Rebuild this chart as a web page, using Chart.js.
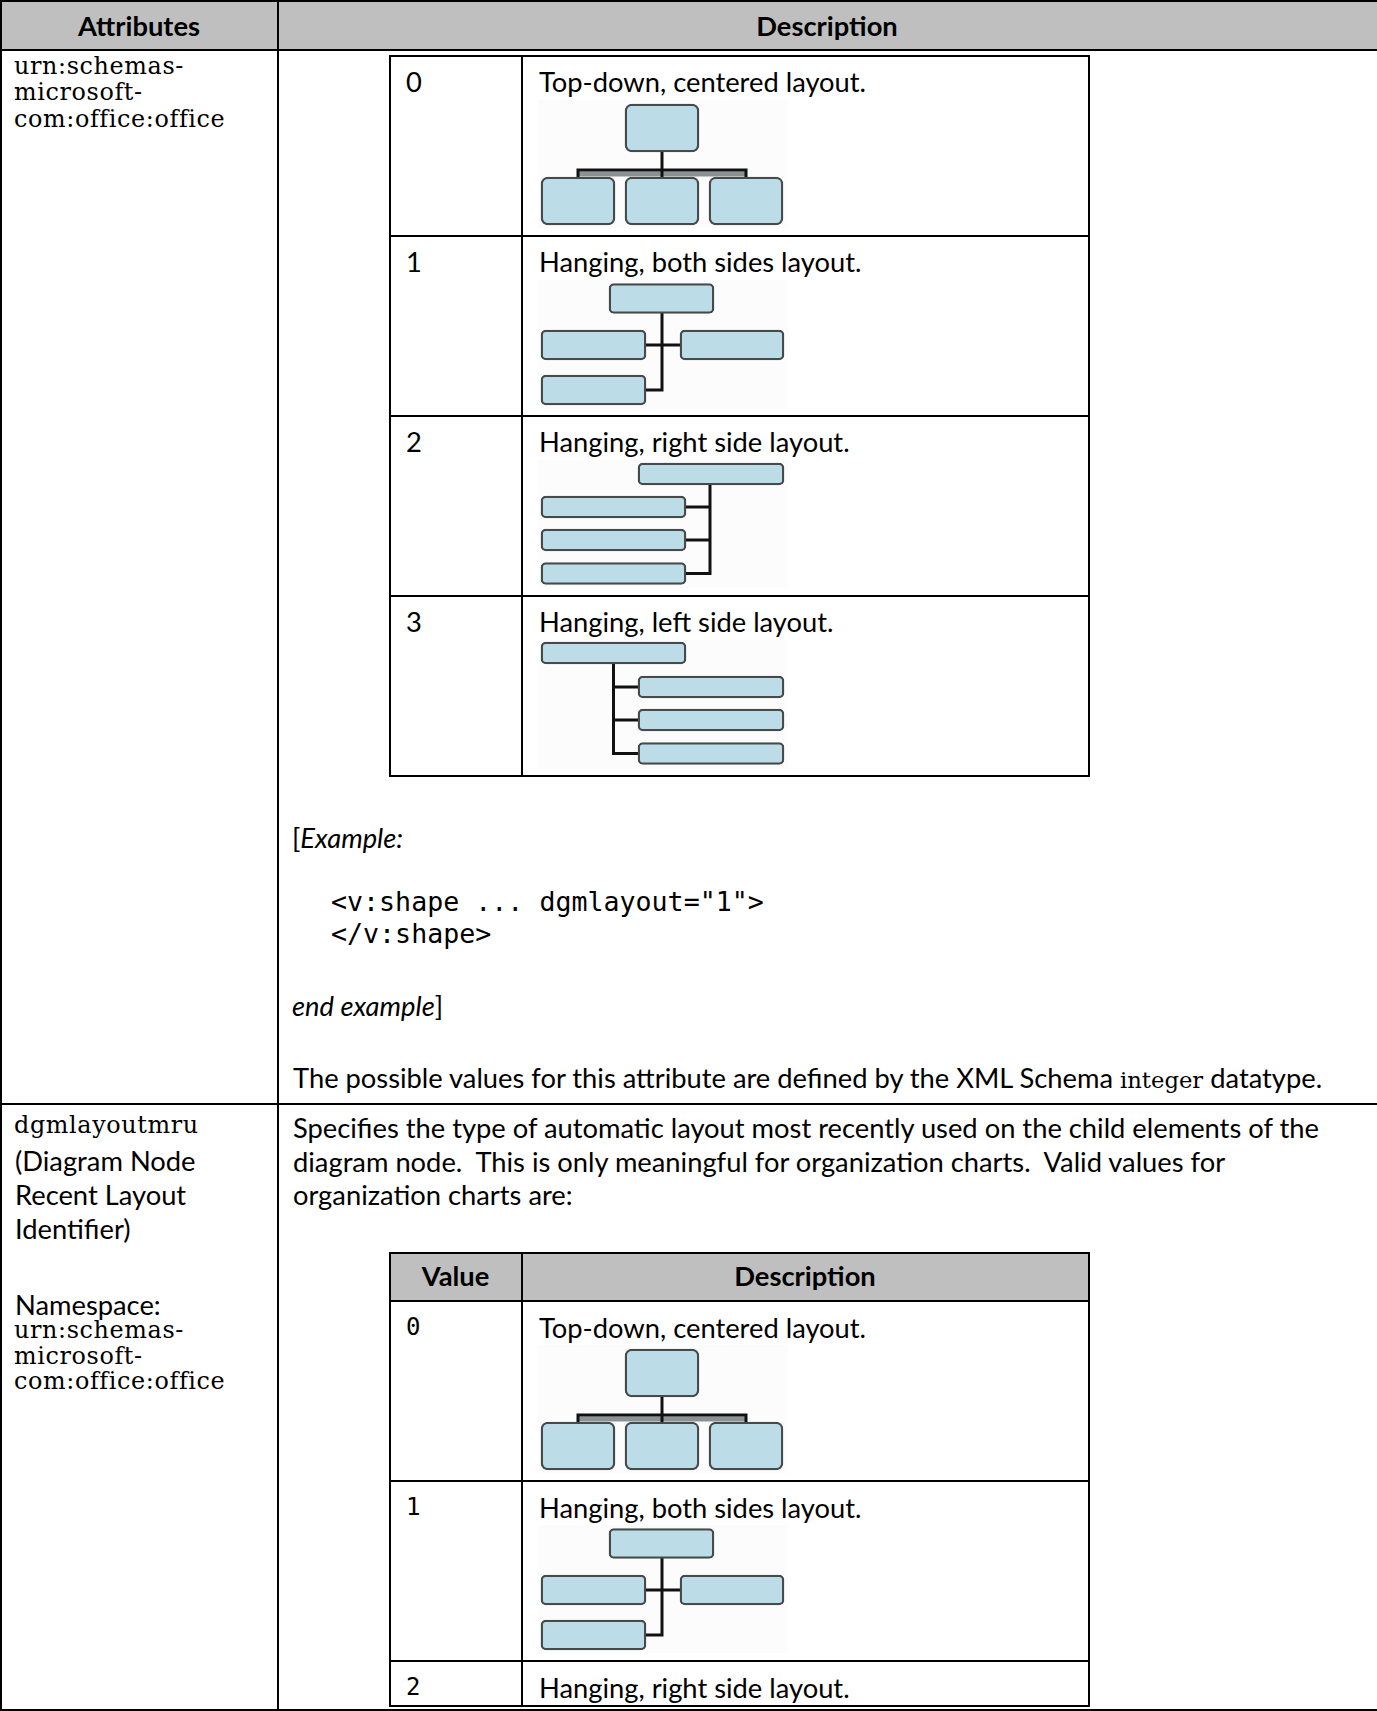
<!DOCTYPE html>
<html>
<head>
<meta charset="utf-8">
<script src="https://cdn.jsdelivr.net/npm/chart.js@4.4.1/dist/chart.umd.min.js"></script>
<style>
  html, body { margin: 0; padding: 0; background: #fff; }
  #page { position: relative; width: 1377px; height: 1711px; overflow: hidden; background: #fff; color: #000; }
  .box { position: absolute; }
  .t { position: absolute; white-space: pre; }
  canvas.dgm { position: absolute; background: #fcfcfc; }
</style>
</head>
<body>
<div id="page"></div>
<script>
const LAYOUT_VALUES = ["0", "1", "2", "3"];
const LAYOUT_NAMES = [
  "Top-down, centered layout.",
  "Hanging, both sides layout.",
  "Hanging, right side layout.",
  "Hanging, left side layout."
];

// Org-chart thumbnails, in a 250 x 128 frame (1 unit = 1 px).
// Boxes are [xStart, xEnd, yCenter]; connectors are polylines of [x, y].
const TOPDOWN_BOXES = [[87, 161, 28], [3, 77, 101], [87, 161, 101], [171, 245, 101]];
const TOPDOWN_LINES = [[[124, 52], [124, 77]], [[40, 77], [40, 70], [208, 70], [208, 77]]];
const TOPDOWN_SHADE = [[[40, 74], [208, 74]]];

const BOTH_BOXES = [[71, 176, 18.5], [3, 108, 65], [142, 246, 65], [3, 108, 110]];
const BOTH_LINES = [[[124, 33], [124, 110], [108, 110]], [[108, 65], [142, 65]]];

const RIGHT_BOXES = [[100, 246, 14], [3, 148, 47], [3, 148, 80], [3, 148, 113.5]];
const RIGHT_LINES = [[[172, 25], [172, 113.5], [148, 113.5]], [[148, 47], [172, 47]], [[148, 80], [172, 80]]];

const LEFT_BOXES = [[3, 148, 13], [100, 246, 47], [100, 246, 80], [100, 246, 113.5]];
const LEFT_LINES = [[[75.5, 24], [75.5, 113.5], [100, 113.5]], [[75.5, 47], [100, 47]], [[75.5, 80], [100, 80]]];

const DIAGRAMS = [
  { boxes: TOPDOWN_BOXES, lines: TOPDOWN_LINES, shade: TOPDOWN_SHADE, boxHeight: 48, radius: 7 },
  { boxes: BOTH_BOXES, lines: BOTH_LINES, shade: [], boxHeight: 30, radius: 5 },
  { boxes: RIGHT_BOXES, lines: RIGHT_LINES, shade: [], boxHeight: 22, radius: 5 },
  { boxes: LEFT_BOXES, lines: LEFT_LINES, shade: [], boxHeight: 22, radius: 5 }
];

const SANS = 'Lato, "Noto Sans", sans-serif';
const SERIF = '"DejaVu Serif", "Liberation Serif", serif';
const MONO = '"DejaVu Sans Mono", "Liberation Mono", monospace';

const page = document.getElementById("page");
const measureCtx = document.createElement("canvas").getContext("2d");

const fitSize = (family, sample, target, weight = "normal") => {
  measureCtx.font = `${weight} 100px ${family}`;
  return (100 * target) / measureCtx.measureText(sample).width;
};

const SANS_FS = fitSize(SANS, "Specifies the type of automatic layout most recently used on the child elements of the", 1028);
// serif is set a little under its fitted size and opened up with letter spacing
const SERIF_FS = fitSize(SERIF, "com:office:office", 210) * 0.95;
const SERIF_LS = (210 * 0.05) / 17;
const MONO_FS = fitSize(MONO, '<v:shape ... dgmlayout="1">', 433);
const DIGIT_FS = 24;

const rect = (x0, y0, x1, y1, color) => {
  const d = document.createElement("div");
  d.className = "box";
  d.style.cssText = `left:${x0}px;top:${y0}px;width:${x1 - x0}px;height:${y1 - y0}px;background:${color}`;
  page.appendChild(d);
};
const hline = (x0, x1, y) => rect(x0 - 1, y - 1, x1 + 1, y + 1, "#000");
const vline = (x, y0, y1) => rect(x - 1, y0 - 1, x + 1, y1 + 1, "#000");

const text = (html, x, cy, family, size, opts = {}) => {
  const d = document.createElement("div");
  d.className = "t";
  d.innerHTML = html;
  d.style.fontFamily = family;
  d.style.fontSize = `${size}px`;
  d.style.lineHeight = `${size}px`;
  d.style.top = `${cy - size * 0.52}px`;
  d.style.left = `${x}px`;
  if (family === SERIF) d.style.letterSpacing = `${SERIF_LS}px`;
  if (opts.bold) d.style.fontWeight = "bold";
  if (opts.center) d.style.transform = "translateX(-50%)";
  page.appendChild(d);
};

const drawDiagram = (x, y, spec) => {
  const canvas = document.createElement("canvas");
  canvas.className = "dgm";
  canvas.width = 250;
  canvas.height = 128;
  canvas.style.left = `${x}px`;
  canvas.style.top = `${y}px`;
  page.appendChild(canvas);

  const datasets = [{
    type: "bar",
    indexAxis: "y",
    data: spec.boxes.map(([x0, x1, yc]) => ({ x: [x0, x1], y: yc })),
    backgroundColor: "#bcdde8",
    borderColor: "#464a4b",
    borderWidth: 2.3,
    borderRadius: spec.radius,
    borderSkipped: false,
    barThickness: spec.boxHeight,
    order: 0
  }];
  spec.lines.forEach((pl) => datasets.push({
    type: "line",
    data: pl.map(([px, py]) => ({ x: px, y: py })),
    borderColor: "#111",
    borderWidth: 3,
    pointRadius: 0,
    fill: false,
    tension: 0,
    order: 1
  }));
  spec.shade.forEach((pl) => datasets.push({
    type: "line",
    data: pl.map(([px, py]) => ({ x: px, y: py })),
    borderColor: "#8a9294",
    borderWidth: 5,
    pointRadius: 0,
    fill: false,
    order: 2
  }));

  new Chart(canvas, {
    type: "scatter",
    data: { datasets },
    options: {
      responsive: false,
      animation: false,
      devicePixelRatio: 1,
      events: [],
      layout: { padding: 0 },
      plugins: { legend: { display: false }, tooltip: { enabled: false } },
      scales: {
        x: { type: "linear", min: 0, max: 250, bounds: "data", offset: false, grace: 0, display: false, grid: { offset: false } },
        y: { type: "linear", min: 0, max: 128, reverse: true, bounds: "data", offset: false, grace: 0, display: false, grid: { offset: false } }
      }
    }
  });
};

// outer table
rect(0, 0, 1377, 50, "#bfbfbf");
hline(0, 1377, 1);
hline(0, 1377, 50);
hline(0, 1377, 1103.5);
hline(0, 1377, 1709.5);
vline(1, 0, 1711);
vline(278, 0, 1711);
text("Attributes", 139, 26, SANS, SANS_FS, { bold: true, center: true });
text("Description", 827, 26, SANS, SANS_FS, { bold: true, center: true });

// row 1, left column
text("urn:schemas-", 14, 67.6, SERIF, SERIF_FS);
text("microsoft-", 14, 93.8, SERIF, SERIF_FS);
text("com:office:office", 14, 120, SERIF, SERIF_FS);

// inner table 1
const T1_ROWS = [55.6, 235.7, 415.7, 595.7, 775.8];
T1_ROWS.forEach((y) => hline(389.5, 1089, y));
[389.5, 521.5, 1089].forEach((x) => vline(x, 55.6, 775.8));
LAYOUT_VALUES.forEach((v, i) => {
  const top = T1_ROWS[i];
  text(v, 406, top + 26.5, SANS, SANS_FS);
  text(LAYOUT_NAMES[i], 539, top + 26.5, SANS, SANS_FS);
  drawDiagram(538, Math.round(top + 44), DIAGRAMS[i]);
});

text("[<i>Example:</i>", 292, 838, SANS, SANS_FS);
text('&lt;v:shape ... dgmlayout="1"&gt;', 331, 902.4, MONO, MONO_FS);
text("&lt;/v:shape&gt;", 331, 935, MONO, MONO_FS);
text("<i>end example</i>]", 292, 1006, SANS, SANS_FS);
text(`The possible values for this attribute are defined by the XML Schema <span style="font-family:${SERIF.replace(/"/g, "'")};font-size:${(SERIF_FS * 0.95).toFixed(1)}px">integer</span> datatype.`, 293, 1078, SANS, SANS_FS);

// row 2
text("dgmlayoutmru", 14, 1126, SERIF, SERIF_FS);
text("(Diagram Node", 15, 1161, SANS, SANS_FS);
text("Recent Layout", 15, 1195, SANS, SANS_FS);
text("Identifier)", 15, 1229, SANS, SANS_FS);
text("Namespace:", 15, 1305, SANS, SANS_FS);
text("urn:schemas-", 14, 1331, SERIF, SERIF_FS);
text("microsoft-", 14, 1357, SERIF, SERIF_FS);
text("com:office:office", 14, 1382, SERIF, SERIF_FS);

text("Specifies the type of automatic layout most recently used on the child elements of the", 293, 1128, SANS, SANS_FS);
text("diagram node.  This is only meaningful for organization charts.  Valid values for", 293, 1162, SANS, SANS_FS);
text("organization charts are:", 293, 1195, SANS, SANS_FS);

// inner table 2
rect(389.5, 1252.6, 1089, 1300.6, "#bfbfbf");
const T2_ROWS = [1252.6, 1300.6, 1480.6, 1660.7, 1705.5];
T2_ROWS.forEach((y) => hline(389.5, 1089, y));
[389.5, 521.5, 1089].forEach((x) => vline(x, 1252.6, 1705.5));
text("Value", 455.5, 1276.6, SANS, SANS_FS, { bold: true, center: true });
text("Description", 805, 1276.6, SANS, SANS_FS, { bold: true, center: true });
LAYOUT_VALUES.slice(0, 3).forEach((v, i) => {
  const top = T2_ROWS[i + 1];
  text(v, 406, top + 27, MONO, DIGIT_FS);
  text(LAYOUT_NAMES[i], 539, top + 27.5, SANS, SANS_FS);
  if (i < 2) drawDiagram(538, Math.round(top + 44), DIAGRAMS[i]);
});
</script>
</body>
</html>
